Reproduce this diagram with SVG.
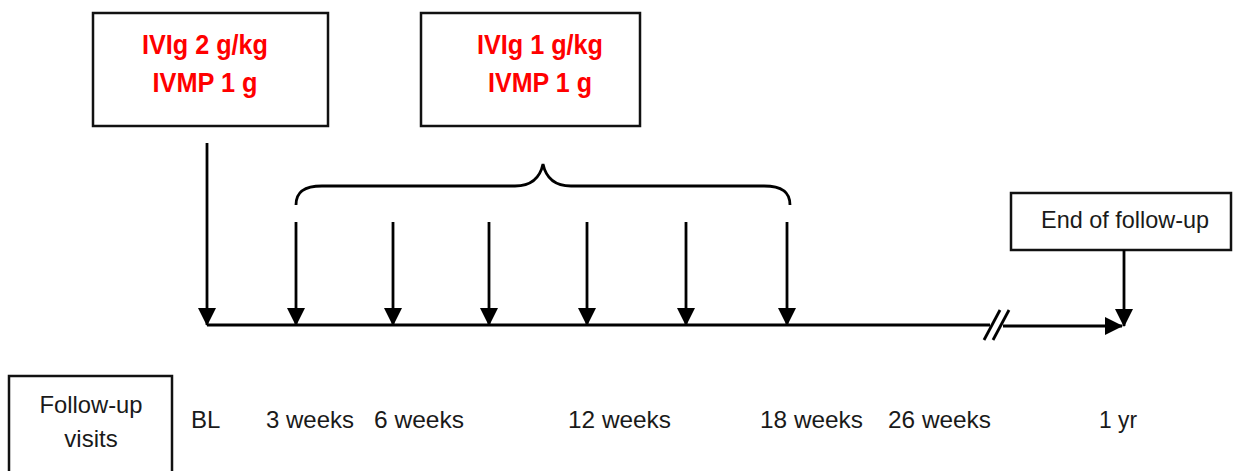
<svg xmlns="http://www.w3.org/2000/svg" width="1234" height="471" viewBox="0 0 1234 471">
<defs>
<marker id="ah" markerUnits="userSpaceOnUse" markerWidth="18" markerHeight="18" refX="17" refY="9" orient="auto" viewBox="0 0 18 18">
<path d="M0,0 L18,9 L0,18 Z" fill="#000"/>
</marker>
</defs>
<style>
.box{fill:#fff;stroke:#111;stroke-width:2.5}
.red{font-family:"Liberation Sans",Arial,sans-serif;font-weight:bold;font-size:27px;fill:#ff0000;text-anchor:middle}
.lbl{font-family:"Liberation Sans",Arial,sans-serif;font-size:24px;fill:#1a1a1a}
.mid{text-anchor:middle}
.ln{stroke:#000;stroke-width:2.8;fill:none}
</style>
<rect width="1234" height="471" fill="#fff"/>
<g id="box-ivig2">
<rect class="box" x="93" y="13" width="235" height="113"/>
<text class="red" x="205" y="54" textLength="126" lengthAdjust="spacingAndGlyphs">IVIg 2 g/kg</text>
<text class="red" x="205" y="92" textLength="105" lengthAdjust="spacingAndGlyphs">IVMP 1 g</text>
</g>
<g id="box-ivig1">
<rect class="box" x="421" y="13" width="219" height="113"/>
<text class="red" x="540" y="54" textLength="126" lengthAdjust="spacingAndGlyphs">IVIg 1 g/kg</text>
<text class="red" x="540" y="92" textLength="104" lengthAdjust="spacingAndGlyphs">IVMP 1 g</text>
</g>
<g id="box-end">
<rect class="box" x="1011" y="193" width="220" height="57"/>
<text class="lbl mid" x="1125" y="228" textLength="168" lengthAdjust="spacingAndGlyphs">End of follow-up</text>
</g>
<g id="box-visits">
<rect class="box" x="9" y="376" width="163" height="100"/>
<text class="lbl mid" x="91" y="413" textLength="103" lengthAdjust="spacingAndGlyphs">Follow-up</text>
<text class="lbl mid" x="91" y="447">visits</text>
</g>
<g id="labels">
<text class="lbl" x="191" y="428">BL</text>
<text class="lbl" x="266" y="428" textLength="88" lengthAdjust="spacingAndGlyphs">3 weeks</text>
<text class="lbl" x="374" y="428" textLength="90" lengthAdjust="spacingAndGlyphs">6 weeks</text>
<text class="lbl" x="568" y="428" textLength="103" lengthAdjust="spacingAndGlyphs">12 weeks</text>
<text class="lbl" x="760" y="428" textLength="103" lengthAdjust="spacingAndGlyphs">18 weeks</text>
<text class="lbl" x="888" y="428" textLength="103" lengthAdjust="spacingAndGlyphs">26 weeks</text>
<text class="lbl" x="1099" y="428" textLength="38" lengthAdjust="spacingAndGlyphs">1 yr</text>
</g>
<g id="connectors">
<line class="ln" x1="207" y1="325" x2="990" y2="325"/>
<line class="ln" x1="1003" y1="326" x2="1122" y2="326" marker-end="url(#ah)"/>
<line class="ln" x1="984" y1="340" x2="1000" y2="310"/>
<line class="ln" x1="993" y1="340" x2="1009" y2="310"/>
<line class="ln" x1="207" y1="143" x2="207" y2="325" marker-end="url(#ah)"/>
<line class="ln" x1="296" y1="222" x2="296" y2="325" marker-end="url(#ah)"/>
<line class="ln" x1="393" y1="222" x2="393" y2="325" marker-end="url(#ah)"/>
<line class="ln" x1="489" y1="222" x2="489" y2="325" marker-end="url(#ah)"/>
<line class="ln" x1="587" y1="222" x2="587" y2="325" marker-end="url(#ah)"/>
<line class="ln" x1="686" y1="222" x2="686" y2="325" marker-end="url(#ah)"/>
<line class="ln" x1="787" y1="222" x2="787" y2="325" marker-end="url(#ah)"/>
<line class="ln" x1="1124" y1="250" x2="1124" y2="326" marker-end="url(#ah)"/>
<path class="ln" d="M296,205 C296,192 304,186 322,186 L515,186 C532,186 540,178 543,164 C546,178 554,186 571,186 L764,186 C782,186 790,192 790,205"/>
</g>
</svg>
